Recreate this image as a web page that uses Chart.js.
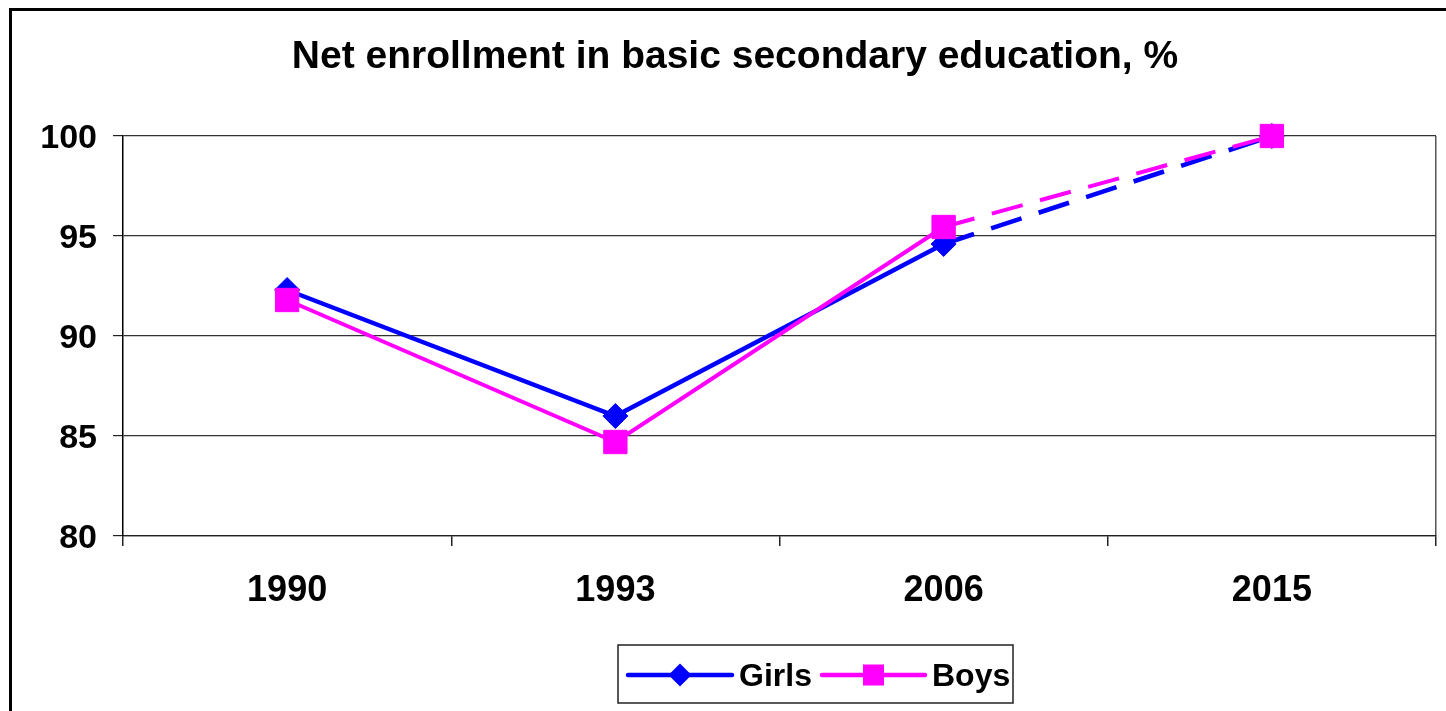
<!DOCTYPE html>
<html>
<head>
<meta charset="utf-8">
<script src="https://cdn.jsdelivr.net/npm/chart.js@4/dist/chart.umd.min.js"></script>
<style>
  html, body { margin: 0; padding: 0; background: #fff; overflow: hidden; }
  #frame {
    position: absolute; left: 9px; top: 8px;
    width: 1468px; height: 712px;
    border: 3px solid #000;
  }
  #chart { display: block; }
</style>
</head>
<body>
<div id="frame"><canvas id="chart" width="1468" height="712"></canvas></div>
<script>
// data
const years = ['1990', '1993', '2006', '2015'];
const girls = [92.3, 86.0, 94.6, 100];
const boys = [91.8, 84.7, 95.45, 100];
const yTicks = [80, 85, 90, 95, 100];

const FONT = '"Liberation Sans", Arial, sans-serif';
const BLUE = '#0000ff';
const MAGENTA = '#ff00ff';

// legend drawn as a framed box with line + marker, like the original
const boxLegend = {
    id: 'boxLegend',
    afterDraw(chart) {
        const c = chart.ctx;
        const top = 634, bottom = 692, left = 606, right = 1001;
        const cy = (top + bottom) / 2 + 1;
        c.save();
        c.strokeStyle = '#222';
        c.lineWidth = 1.5;
        c.strokeRect(left, top, right - left, bottom - top);

        const items = [
            { ds: chart.data.datasets[0], x0: 616, x1: 720 },
            { ds: chart.data.datasets[1], x0: 810, x1: 913 }
        ];
        items.forEach(it => {
            const ds = it.ds;
            c.strokeStyle = ds.borderColor;
            c.lineWidth = 4.5;
            c.lineCap = 'round';
            c.beginPath();
            c.moveTo(it.x0, cy);
            c.lineTo(it.x1, cy);
            c.stroke();
            const mx = (it.x0 + it.x1) / 2;
            c.fillStyle = ds.pointBackgroundColor;
            c.beginPath();
            if (ds.pointStyle === 'rectRot') {
                const r = 11.5;
                c.moveTo(mx, cy - r);
                c.lineTo(mx + r, cy);
                c.lineTo(mx, cy + r);
                c.lineTo(mx - r, cy);
                c.closePath();
            } else {
                c.rect(mx - 10.5, cy - 10.5, 21, 21);
            }
            c.fill();
            c.fillStyle = '#000';
            c.font = 'bold 32px ' + FONT;
            c.textBaseline = 'middle';
            c.textAlign = 'left';
            c.fillText(ds.label, it.x1 + 7, cy + 2);
        });
        c.restore();
    }
};

const ctx = document.getElementById('chart').getContext('2d');
const chart = new Chart(ctx, {
    type: 'line',
    data: {
        labels: years,
        datasets: [{
            label: 'Girls',
            data: girls,
            borderColor: BLUE,
            backgroundColor: BLUE,
            pointBackgroundColor: BLUE,
            pointBorderColor: BLUE,
            borderWidth: 4.5,
            pointStyle: 'rectRot',
            pointRadius: 12.5,
            pointBorderWidth: 1,
            order: 1,
            clip: false,
            segment: {
                borderDash: c => c.p0DataIndex === 2 ? [32, 18] : undefined
            }
        }, {
            label: 'Boys',
            data: boys,
            borderColor: MAGENTA,
            backgroundColor: MAGENTA,
            pointBackgroundColor: MAGENTA,
            pointBorderColor: MAGENTA,
            borderWidth: 4,
            pointStyle: 'rect',
            pointRadius: 16.5,
            pointBorderWidth: 1,
            order: 0,
            clip: false,
            segment: {
                borderDash: c => c.p0DataIndex === 2 ? [32, 18] : undefined
            }
        }]
    },
    options: {
        responsive: false,
        animation: false,
        tension: 0,
        layout: { padding: { left: 22, right: 44, top: 0, bottom: 87 } },
        plugins: {
            legend: { display: false },
            tooltip: { enabled: false },
            title: {
                display: true,
                text: 'Net enrollment in basic secondary education, %',
                color: '#000',
                font: { family: FONT, size: 39, weight: 'bold' },
                padding: { top: 23, bottom: 55.2 }
            }
        },
        scales: {
            x: {
                offset: true,
                afterFit: s => { s.height = 100; },
                grid: {
                    offset: true,
                    drawOnChartArea: true,
                    color: c => c.type === 'tick' ? 'rgba(0,0,0,0)' : '#555',
                    lineWidth: 1.5,
                    tickColor: '#222',
                    tickLength: 10
                },
                border: { color: '#222', width: 1.2 },
                ticks: {
                    color: '#000',
                    padding: 23,
                    maxRotation: 0,
                    font: { family: FONT, size: 36, weight: 'bold' }
                }
            },
            y: {
                min: yTicks[0],
                max: yTicks[yTicks.length - 1],
                afterFit: s => { s.width = 89; },
                afterBuildTicks: s => { s.ticks = yTicks.map(v => ({ value: v })); },
                grid: {
                    color: '#333',
                    lineWidth: 1.2,
                    tickColor: '#222',
                    tickLength: 10
                },
                border: { color: '#000', width: 1.5 },
                ticks: {
                    color: '#000',
                    padding: 16,
                    labelOffset: 3,
                    font: { family: FONT, size: 34, weight: 'bold' }
                }
            }
        }
    },
    plugins: [boxLegend]
});
</script>
</body>
</html>
